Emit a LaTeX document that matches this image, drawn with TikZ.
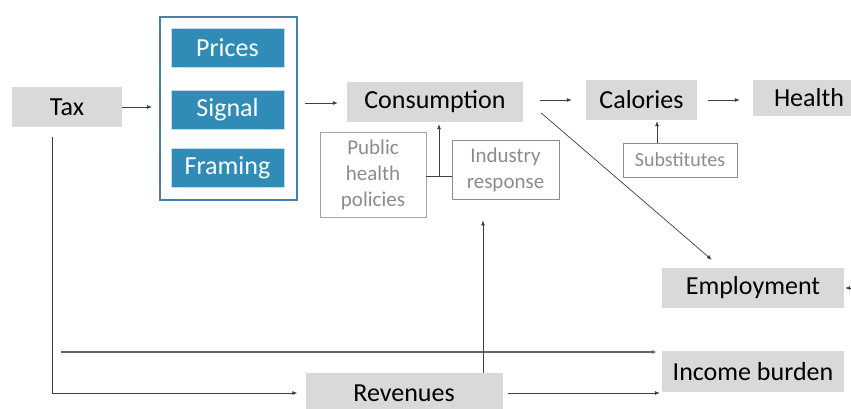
\documentclass[tikz,border=0pt]{standalone}
\usepackage{fontspec}
\setmainfont{Carlito}
\usetikzlibrary{arrows.meta,positioning,calc}
\definecolor{boxgray}{HTML}{D9D9D9}
\definecolor{chanblue}{HTML}{318BB7}
\definecolor{frameblue}{HTML}{4A7FA6}
\definecolor{linegray}{HTML}{3F3F3F}
\definecolor{softgray}{HTML}{8C8C8C}

\begin{document}
\begin{tikzpicture}[
          x=1pt, y=-1pt,
          main/.style={fill=boxgray, inner sep=0pt, font=\fontsize{26}{30}\selectfont},
          chan/.style={fill=chanblue, draw=white!70!chanblue, text=white, inner sep=0pt,
                       minimum width=113pt, minimum height=39pt, font=\fontsize{26}{30}\selectfont},
          side/.style={draw=softgray!80, text=softgray, inner sep=0pt, align=center,
                       line width=0.9pt, font=\fontsize{21}{26}\selectfont},
          arr/.style={draw=linegray, line width=0.7pt, -{Latex[length=5pt,width=4pt]}}
      ]
        \clip (0,0) rectangle (851,408);
        \fill[white] (0,0) rectangle (851,408);

        % main boxes
        \node[main, minimum width=110pt, minimum height=40pt] (tax) at (67,107) {Tax};
        \node[main, minimum width=176pt, minimum height=40pt] (cons) at (435,102) {Consumption};
        \node[main, minimum width=111pt, minimum height=40pt] (cal) at (641.5,100) {Calories};
        \node[main, minimum width=112pt, minimum height=36pt] (health) at (809,98) {Health};
        \node[main, minimum width=182pt, minimum height=40pt] (emp) at (753,288) {Employment};
        \node[main, minimum width=182pt, minimum height=41pt] (inc) at (753,371.5) {Income burden};
        \node[main, minimum width=197pt, minimum height=40pt] (rev) at (404,393) {Revenues};

        % channels of the tax
        \draw[frameblue, line width=1.2pt] (160,17) rectangle (297,200);
        \coordinate (chin) at (160,107);
        \coordinate (chout) at (297,103);
        \node[chan] (prices) at (227.5,47.5) {Prices};
        \node[chan] (signal) at (227.5,109.5) {Signal};
        \node[chan] (framing) at (227.5,168) {Framing};

        % side influences
        \node[side, minimum width=106pt, minimum height=85pt] (pub) at (373,174.5) {Public\\health\\policies};
        \node[side, draw=softgray, minimum width=107pt, minimum height=59pt] (ind) at (505.5,169.5) {Industry\\response};
        \node[side, draw=softgray, minimum width=114pt, minimum height=34pt,
              font=\fontsize{20}{24}\selectfont] (subs) at (680,160) {Substitutes};

        % main chain
        \draw[arr, shorten >=8pt] (tax.east) -- (chin);
        \draw[arr, shorten <=8pt, shorten >=9pt] (chout) -- (cons.west |- chout);
        \draw[arr, shorten <=17pt, shorten >=14pt] (cons.east |- cal.west) -- (cal.west);
        \draw[arr, shorten <=11pt, shorten >=13pt] (cal.east) -- (cal.east -| health.west);
        \draw[arr] ($(cons.east)+(18,11)$) -- ($(emp.north west)+(50,-8)$);

        % side effects into consumption and calories
        \coordinate (join) at (439,176);
        \draw[draw=linegray, line width=0.7pt] (pub.east |- join) -- (ind.west |- join);
        \draw[arr, shorten >=2pt] (join) -- (cons.south -| join);
        \draw[arr, shorten >=1pt] ([xshift=-23pt]subs.north) -- ([xshift=-23pt]subs.north |- cal.south);

        % revenue and burden paths
        \draw[arr, shorten <=10pt, shorten >=8pt] ([xshift=-15pt]tax.south) |- (rev.west);
        \coordinate (burden) at (61,352);
        \draw[arr, draw=linegray!80, line width=1.1pt, shorten >=5pt] (burden) -- (burden -| inc.west);
        \draw[arr, shorten <=5pt, shorten >=2pt] (rev.east) -- (rev.east -| inc.west);
        \draw[arr, shorten >=21pt] ([xshift=79pt]rev.north) -- ([xshift=79pt]rev.north |- ind.south);
        \coordinate (empin) at (860,288);
        \draw[arr, shorten >=1pt] (empin) -- (emp.east);
      \end{tikzpicture}
\end{document}
